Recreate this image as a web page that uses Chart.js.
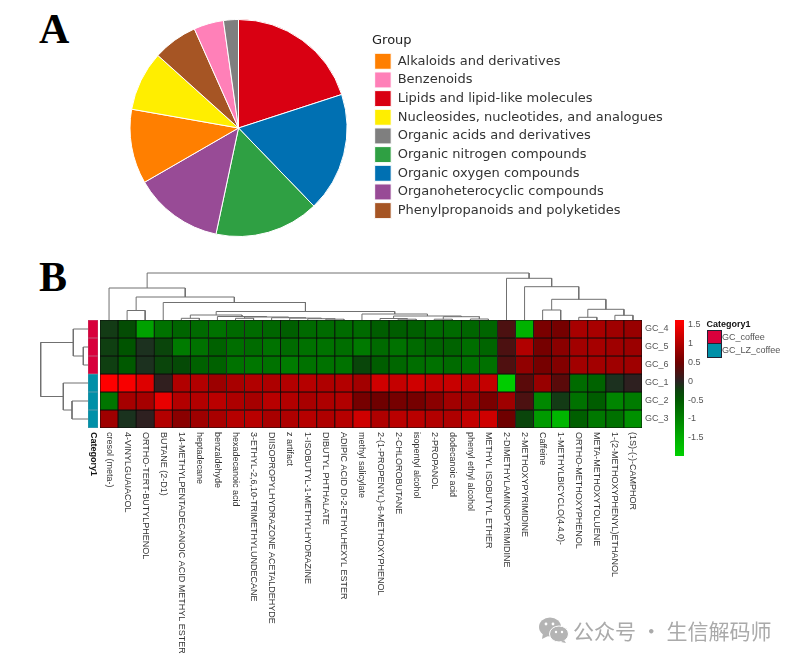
<!DOCTYPE html>
<html><head><meta charset="utf-8">
<script src="https://cdn.jsdelivr.net/npm/chart.js@4"></script>
<style>
html,body{margin:0;padding:0;background:#fff}
#stage{position:relative;width:800px;height:664px;overflow:hidden;background:#fff;filter:blur(.4px)}
canvas{position:absolute}
.t{position:absolute;white-space:nowrap}
.panel{font:bold 42px "Liberation Serif";color:#000;line-height:42px}
.sw{position:absolute;width:13px;height:12.5px;border:0.5px solid #223}
.lg{font:9px "Liberation Sans";color:#555;line-height:12px}
</style></head><body>
<div id="stage">
<div class="t panel" style="left:39px;top:8px">A</div>
<div class="t panel" style="left:39px;top:256px">B</div>
<canvas id="pie" style="left:0;top:0" width="680" height="250"></canvas>
<canvas id="topTree" style="left:100px;top:272px" width="542" height="48"></canvas>
<canvas id="leftTree" style="left:40px;top:320px" width="48" height="108"></canvas>
<canvas id="strip" style="left:88px;top:320px" width="10" height="175"></canvas>
<canvas id="heat" style="left:100px;top:320px" width="582" height="340"></canvas>
<canvas id="bar" style="left:675px;top:320px" width="40" height="136"></canvas>
<div class="t" id="catTitle" style="left:706.5px;top:318px;font:bold 9px/12px 'Liberation Sans';color:#111"></div>
<div class="sw" style="left:706.5px;top:330px;background:#d8003c"></div>
<div class="sw" style="left:706.5px;top:343px;background:#0090a8"></div>
<div class="t lg" id="cat0" style="left:722px;top:331px"></div>
<div class="t lg" id="cat1" style="left:722px;top:344px"></div>
<svg style="position:absolute;left:538px;top:616px" width="32" height="28" viewBox="0 0 32 28">
<ellipse cx="12" cy="11" rx="11" ry="9.5" fill="#b4b4b4"/><path d="M5 17l-1 6 6-3z" fill="#b4b4b4"/>
<ellipse cx="21" cy="18" rx="9.5" ry="8" fill="#b4b4b4" stroke="#fff" stroke-width="1"/><path d="M26 24l2 3-5-1z" fill="#b4b4b4"/>
<circle cx="8" cy="8" r="1.4" fill="#fff"/><circle cx="15" cy="8" r="1.4" fill="#fff"/>
<circle cx="18" cy="16" r="1.2" fill="#fff"/><circle cx="24" cy="16" r="1.2" fill="#fff"/></svg>
<div class="t" id="mark" style="left:573px;top:617px;font:21px/26px 'Noto Sans CJK SC';color:#aaa"></div>
</div>
<script>
// ---- Panel A data ----
const pieLabels = ["Lipids and lipid-like molecules","Organic oxygen compounds","Organic nitrogen compounds","Organoheterocyclic compounds","Alkaloids and derivatives","Nucleosides, nucleotides, and analogues","Phenylpropanoids and polyketides","Benzenoids","Organic acids and derivatives"];
const pieValues = [9,8,7,6,5,4,3,2,1];
const pieColors = ["#d90012","#0070b2","#2fa043","#984b96","#ff7f00","#ffee00","#a65524","#ff80b8","#7f7f7f"];

// ---- Panel B data ----
const compounds = ["cresol (meta-)","4-VINYLGUAIACOL","ORTHO-TERT-BUTYLPHENOL","BUTANE (2-D1)","14-METHYLPENTADECANOIC ACID METHYL ESTER","heptadecane","benzaldehyde","hexadecanoic acid","3-ETHYL-2,6,10-TRIMETHYLUNDECANE","DIISOPROPYLHYDRAZONE ACETALDEHYDE","z artifact","1-ISOBUTYL-1-METHYLHYDRAZINE","DIBUTYL PHTHALATE","ADIPIC ACID DI-2-ETHYLHEXYL ESTER","methyl salicylate","2-(1-PROPENYL)-6-METHOXYPHENOL","2-CHLOROBUTANE","isopentyl alcohol","2-PROPANOL","dodecanoic acid","phenyl ethyl alcohol","METHYL ISOBUTYL ETHER","2-DIMETHYLAMINOPYRIMIDINE","2-METHOXYPYRIMIDINE","Caffeine","1-METHYLBICYCLO(4.4.0)-","ORTHO-METHOXYPHENOL","META-METHOXYTOLUENE","1-(2-METHOXYPHENYL)ETHANOL","(1S)-(-)-CAMPHOR"];
const rowLabels = ["GC_4","GC_5","GC_6","GC_1","GC_2","GC_3"];
const gc4 = [-.15,-.35,-1.35,-.8,-.65,-.7,-.8,-.7,-.72,-.66,-.58,-.7,-.72,-.72,-.7,-.55,-.55,-.58,-.7,-.7,-.65,-.65,.25,-1.55,.58,.55,.92,.92,.85,.8];
const gc5 = [-.2,-.45,-.03,-.27,-.9,-.8,-.6,-.75,-.72,-.8,-.72,-.78,-.8,-.75,-.88,-.7,-.8,-.7,-.62,-.62,-.75,-.65,.25,.98,.55,.7,.87,.9,.85,.82];
const gc6 = [-.2,-.5,-.03,-.27,-.33,-.6,-.6,-.8,-.85,-.8,-.92,-.8,-.8,-.8,-.28,-.55,-.67,-.75,-.78,-.72,-.78,-.78,.27,.75,.55,.65,.87,.88,.85,.85];
const gc1 = [1.55,1.5,1.3,.05,.98,1,.83,.92,.98,.95,1,1.02,.97,1,.87,1.2,1.12,1.2,1.12,1.15,1.05,1.12,-1.85,.35,.8,.35,-.72,-.62,-.03,.03];
const gc2 = [-.85,.9,.9,1.38,1,1,1.05,.95,.9,1.03,1,.92,.95,.98,.55,.5,.55,.55,.7,.87,.82,.58,.85,.25,-1.05,-.15,-.8,-.55,-1.02,-.9];
const gc3 = [.85,-.05,.03,1,.7,.85,.92,1.02,1.03,.92,.97,1.02,.97,1.02,1.2,.97,1.05,1.05,1,.97,1.12,1.2,.5,-.27,-1.28,-1.6,-.58,-.87,-.78,-1.15];
const heatRows = [gc4,gc5,gc6,gc1,gc2,gc3];
const rowGroup = [0,0,0,1,1,1];
const groupNames = ["GC_coffee","GC_LZ_coffee"];
const groupColors = ["#d8003c","#0090a8"];
const colorTicks = [1.5,1,.5,0,-.5,-1,-1.5];
const colorRange = [-1.98,1.62];
const colorStops = [-1.98,-1.5,-1,-.5,-.25,0,.25,.5,1,1.5,1.62];
// dendrograms: [left, right, height]; a number is a leaf index
const columnTree = [[0,[[1,2,9.5],[3,[[[4,5,1.7],[6,[[7,8,1.7],[9,[10,[11,[12,13,.8],1.3],1.9],2.3],3],3.5],5],[14,[[15,[16,17,.8],1.5],[[18,19,.8],[20,21,1],3.3],4],6],8.5],17.5],23],32],[22,[23,[[24,25,10],[[26,27,2.7],[28,29,4.7],10.7],20.7],33.3],41.7],47];
const rowTree = [[0,[1,2,4.7],14.7],[3,[4,5,16],24.7],47.3];

Chart.defaults.animation = false;
Chart.defaults.responsive = false;
Chart.defaults.plugins.legend.display = false;
Chart.defaults.plugins.tooltip.enabled = false;

function colorAt(v){
  if(v>=0){
    const t=Math.min(v/1.55,1), d=Math.max(0,1-v/.5);
    return `rgb(${Math.round(42+213*t)},${Math.round(34*d)},${Math.round(34*d)})`;
  }
  const t=Math.min(-v/1.9,1), d=Math.max(0,1+v/.4);
  return `rgb(${Math.round(30*d)},${Math.round(46+162*t)},${Math.round(34*d)})`;
}
function treeSegments(node,out){
  if(typeof node==="number") return {p:node+.5,h:0};
  const a=treeSegments(node[0],out), b=treeSegments(node[1],out), H=node[2];
  out.push([[a.p,a.h],[a.p,H],[b.p,H],[b.p,b.h]]);
  return {p:(a.p+b.p)/2,h:H};
}
function treeDatasets(tree,horizontal){
  const segs=[]; treeSegments(tree,segs);
  return segs.map(s=>({
    data:s.map(([p,h])=>horizontal?{x:h,y:p}:{x:p,y:h}),
    showLine:true,borderColor:"#707070",borderWidth:1,pointRadius:0,tension:0,clip:false
  }));
}
const noPad={padding:0};
const flatAxis=(width)=>s=>{s.width=width;s.paddingTop=0;s.paddingBottom=0};

// Panel A
new Chart(document.getElementById("pie"),{
  type:"pie",
  data:{labels:pieLabels,datasets:[{data:pieValues,backgroundColor:pieColors,borderColor:"#fff",borderWidth:1}]},
  options:{
    layout:{padding:{left:105,top:19,bottom:13,right:8}},
    plugins:{legend:{display:true,position:"right",align:"start",maxWidth:300,
      title:{display:true,text:"Group",position:"start",color:"#222",font:{family:"DejaVu Sans",size:13},padding:{top:15,bottom:1}},
      labels:{sort:(a,b)=>a.text.localeCompare(b.text),boxWidth:16.5,boxHeight:16,padding:2.67,color:"#333",font:{family:"DejaVu Sans",size:13}}}}
  }
});

// column dendrogram
new Chart(document.getElementById("topTree"),{
  type:"scatter",
  data:{datasets:treeDatasets(columnTree,false)},
  options:{layout:noPad,scales:{x:{type:"linear",min:0,max:compounds.length,display:false},y:{type:"linear",min:0,max:48,display:false}}}
});
// row dendrogram
new Chart(document.getElementById("leftTree"),{
  type:"scatter",
  data:{datasets:treeDatasets(rowTree,true)},
  options:{layout:noPad,scales:{x:{type:"linear",min:0,max:48,reverse:true,display:false},y:{type:"linear",min:0,max:rowLabels.length,reverse:true,display:false}}}
});
// annotation strip
new Chart(document.getElementById("strip"),{
  type:"bar",
  data:{labels:["Category1"],datasets:rowLabels.map((r,i)=>({label:r,data:[1],backgroundColor:groupColors[rowGroup[i]],borderColor:"rgba(70,70,90,.55)",borderWidth:.5,borderSkipped:false}))},
  options:{layout:{padding:{bottom:67}},datasets:{bar:{barPercentage:1,categoryPercentage:1}},
    scales:{x:{stacked:true,display:false},y:{stacked:true,min:0,max:rowLabels.length,reverse:true,display:false}}}
});
// heat map
const xLabelsPlugin={id:"xLabels",afterDraw(chart){
  const {ctx,scales:{x},chartArea}=chart;
  ctx.save();ctx.font="9px 'Liberation Sans'";ctx.fillStyle="#333";ctx.textAlign="left";ctx.textBaseline="middle";
  compounds.forEach((c,i)=>{
    ctx.save();ctx.translate(x.getPixelForValue(i),chartArea.bottom+4);ctx.rotate(Math.PI/2);ctx.fillText(c,0,0);ctx.restore();
  });
  ctx.restore();
}};
new Chart(document.getElementById("heat"),{
  type:"bar",
  data:{labels:compounds,datasets:heatRows.map((row,i)=>({
    label:rowLabels[i],data:row.map(()=>1),
    backgroundColor:row.map(colorAt),borderColor:"#0c0c0c",borderWidth:.8,borderSkipped:false,yAxisID:"y"}))},
  options:{
    layout:{padding:{bottom:232}},
    datasets:{bar:{barPercentage:1,categoryPercentage:1}},
    scales:{
      x:{stacked:true,display:false,ticks:{autoSkip:false}},
      y:{stacked:true,min:0,max:rowLabels.length,reverse:true,display:false},
      rows:{type:"category",labels:rowLabels,position:"right",offset:true,
        afterFit:flatAxis(40),
        border:{display:false},grid:{display:false,drawTicks:false},
        ticks:{color:"#555",padding:3,font:{family:"Liberation Sans",size:9}}}
    }
  },
  plugins:[xLabelsPlugin]
});
// colour bar
new Chart(document.getElementById("bar"),{
  type:"bar",
  data:{labels:[""],datasets:[{data:[colorRange],
    backgroundColor(c){
      const {chart}=c,s=chart.scales.y; if(!chart.chartArea||!s) return "#000";
      const g=chart.ctx.createLinearGradient(0,s.getPixelForValue(colorRange[1]),0,s.getPixelForValue(colorRange[0]));
      colorStops.forEach(v=>g.addColorStop((colorRange[1]-v)/(colorRange[1]-colorRange[0]),colorAt(v)));
      return g;
    },borderWidth:0}]},
  options:{layout:noPad,datasets:{bar:{barPercentage:1,categoryPercentage:1}},
    scales:{
      x:{display:false},
      y:{type:"linear",min:colorRange[0],max:colorRange[1],position:"right",
        afterFit:flatAxis(31),
        afterBuildTicks(s){s.ticks=colorTicks.map(v=>({value:v}))},
        border:{display:false},grid:{display:false,drawTicks:false},
        ticks:{color:"#555",padding:4,font:{family:"Liberation Sans",size:9},callback:v=>String(v)}}
    }}
});
// texts outside the charts
document.getElementById("catTitle").textContent="Category1";
document.getElementById("cat0").textContent=groupNames[0];
document.getElementById("cat1").textContent=groupNames[1];
document.getElementById("mark").textContent="公众号 · 生信解码师";
// rotated strip label
const sc=document.getElementById("strip"),sctx=sc.getContext("2d");
sctx.save();sctx.font="bold 9px 'Liberation Sans'";sctx.fillStyle="#111";sctx.textAlign="left";sctx.textBaseline="middle";
sctx.translate(5,112);sctx.rotate(Math.PI/2);sctx.fillText("Category1",0,0);sctx.restore();
</script>
</body></html>
